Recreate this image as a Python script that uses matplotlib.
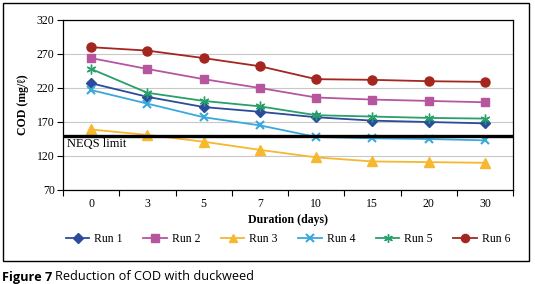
import matplotlib
matplotlib.use("Agg")
import matplotlib.pyplot as plt
from matplotlib.patches import Rectangle

days = ["0", "3", "5", "7", "10", "15", "20", "30"]
run1 = [227, 207, 192, 185, 177, 172, 170, 168]
run2 = [264, 248, 233, 220, 206, 203, 201, 199]
run3 = [159, 151, 141, 129, 118, 112, 111, 110]
run4 = [217, 197, 177, 165, 148, 146, 145, 143]
run5 = [248, 213, 201, 193, 180, 178, 176, 175]
run6 = [280, 275, 264, 252, 233, 232, 230, 229]
neqs_limit = 150
y_ticks = [70, 120, 170, 220, 270, 320]

series = [
    ("Run 1", run1, "#2B4C9B", "D", 5.5),
    ("Run 2", run2, "#B5569F", "s", 6),
    ("Run 3", run3, "#F5B82E", "^", 6.5),
    ("Run 4", run4, "#3BA8DC", "x", 6),
    ("Run 5", run5, "#27A06A", (6, 2, 0), 7),
    ("Run 6", run6, "#A3261F", "o", 6.5),
]

serif = "Liberation Serif"
fs = 8.5
W, H = 535, 284
fig = plt.figure(figsize=(W / 100, H / 100), dpi=100)
fig.patch.set_facecolor("white")

# outer frame
fig.add_artist(Rectangle((3 / W, 1 - 261 / H), (529 - 3) / W, (261 - 3) / H,
                         transform=fig.transFigure, fill=False,
                         edgecolor="black", linewidth=1.0))

ax = fig.add_axes([63 / W, 1 - 190 / H, (513 - 63) / W, (190 - 20) / H])
x = list(range(len(days)))
for name, vals, color, marker, ms in series:
    ax.plot(x, vals, color=color, marker=marker, markersize=ms, linewidth=1.3,
            markeredgewidth=1.5 if marker == "x" else 1.0,
            markeredgecolor=color, label=name, zorder=3)

ax.axhline(neqs_limit, color="black", linewidth=2.4, zorder=4)
ax.text(0.008, neqs_limit - 3, "NEQS limit", transform=ax.get_yaxis_transform(),
        ha="left", va="top", fontsize=9, family=serif)

ax.set_xlim(-0.5, len(days) - 0.5)
ax.set_ylim(70, 320)
ax.set_yticks(y_ticks)
ax.set_yticklabels([str(v) for v in y_ticks], family=serif, fontsize=fs)
ax.set_xticks(x)
ax.set_xticklabels(days, family=serif, fontsize=fs)
ax.tick_params(axis="x", length=0, pad=6)
ax.set_xticks([i - 0.5 for i in range(len(days) + 1)], minor=True)
ax.tick_params(axis="x", which="minor", length=4, width=0.8, direction="out")
ax.tick_params(axis="y", length=4, width=0.8, direction="out", pad=2)
ax.grid(axis="y", color="#C8C8C8", linewidth=0.8, zorder=0)
for s in ax.spines.values():
    s.set_linewidth(0.9)

ax.set_xlabel("Duration (days)", family=serif, fontsize=fs, fontweight="bold", labelpad=3)
ax.set_ylabel("COD (mg/ℓ)", family=serif, fontsize=fs, fontweight="bold", labelpad=6)

handles, labels = ax.get_legend_handles_labels()
leg = fig.legend(handles, labels, loc="center", ncol=6,
                 bbox_to_anchor=((63 + 513) / 2 / W, 1 - 239 / H),
                 frameon=False, prop={"family": serif, "size": fs},
                 handlelength=2.0, columnspacing=1.75, handletextpad=0.4,
                 markerscale=0.9)

t1 = fig.text(2 / W, 1 - 277 / H, "Figure 7", family="Open Sans", fontweight="bold",
              fontsize=9.2, va="center", ha="left")
fig.canvas.draw()
bb = t1.get_window_extent()
fig.text((bb.x1 + 3) / W, 1 - 277 / H, "Reduction of COD with duckweed",
         family="Open Sans", fontsize=9.2, va="center", ha="left")

fig.savefig("out.png", dpi=100)
